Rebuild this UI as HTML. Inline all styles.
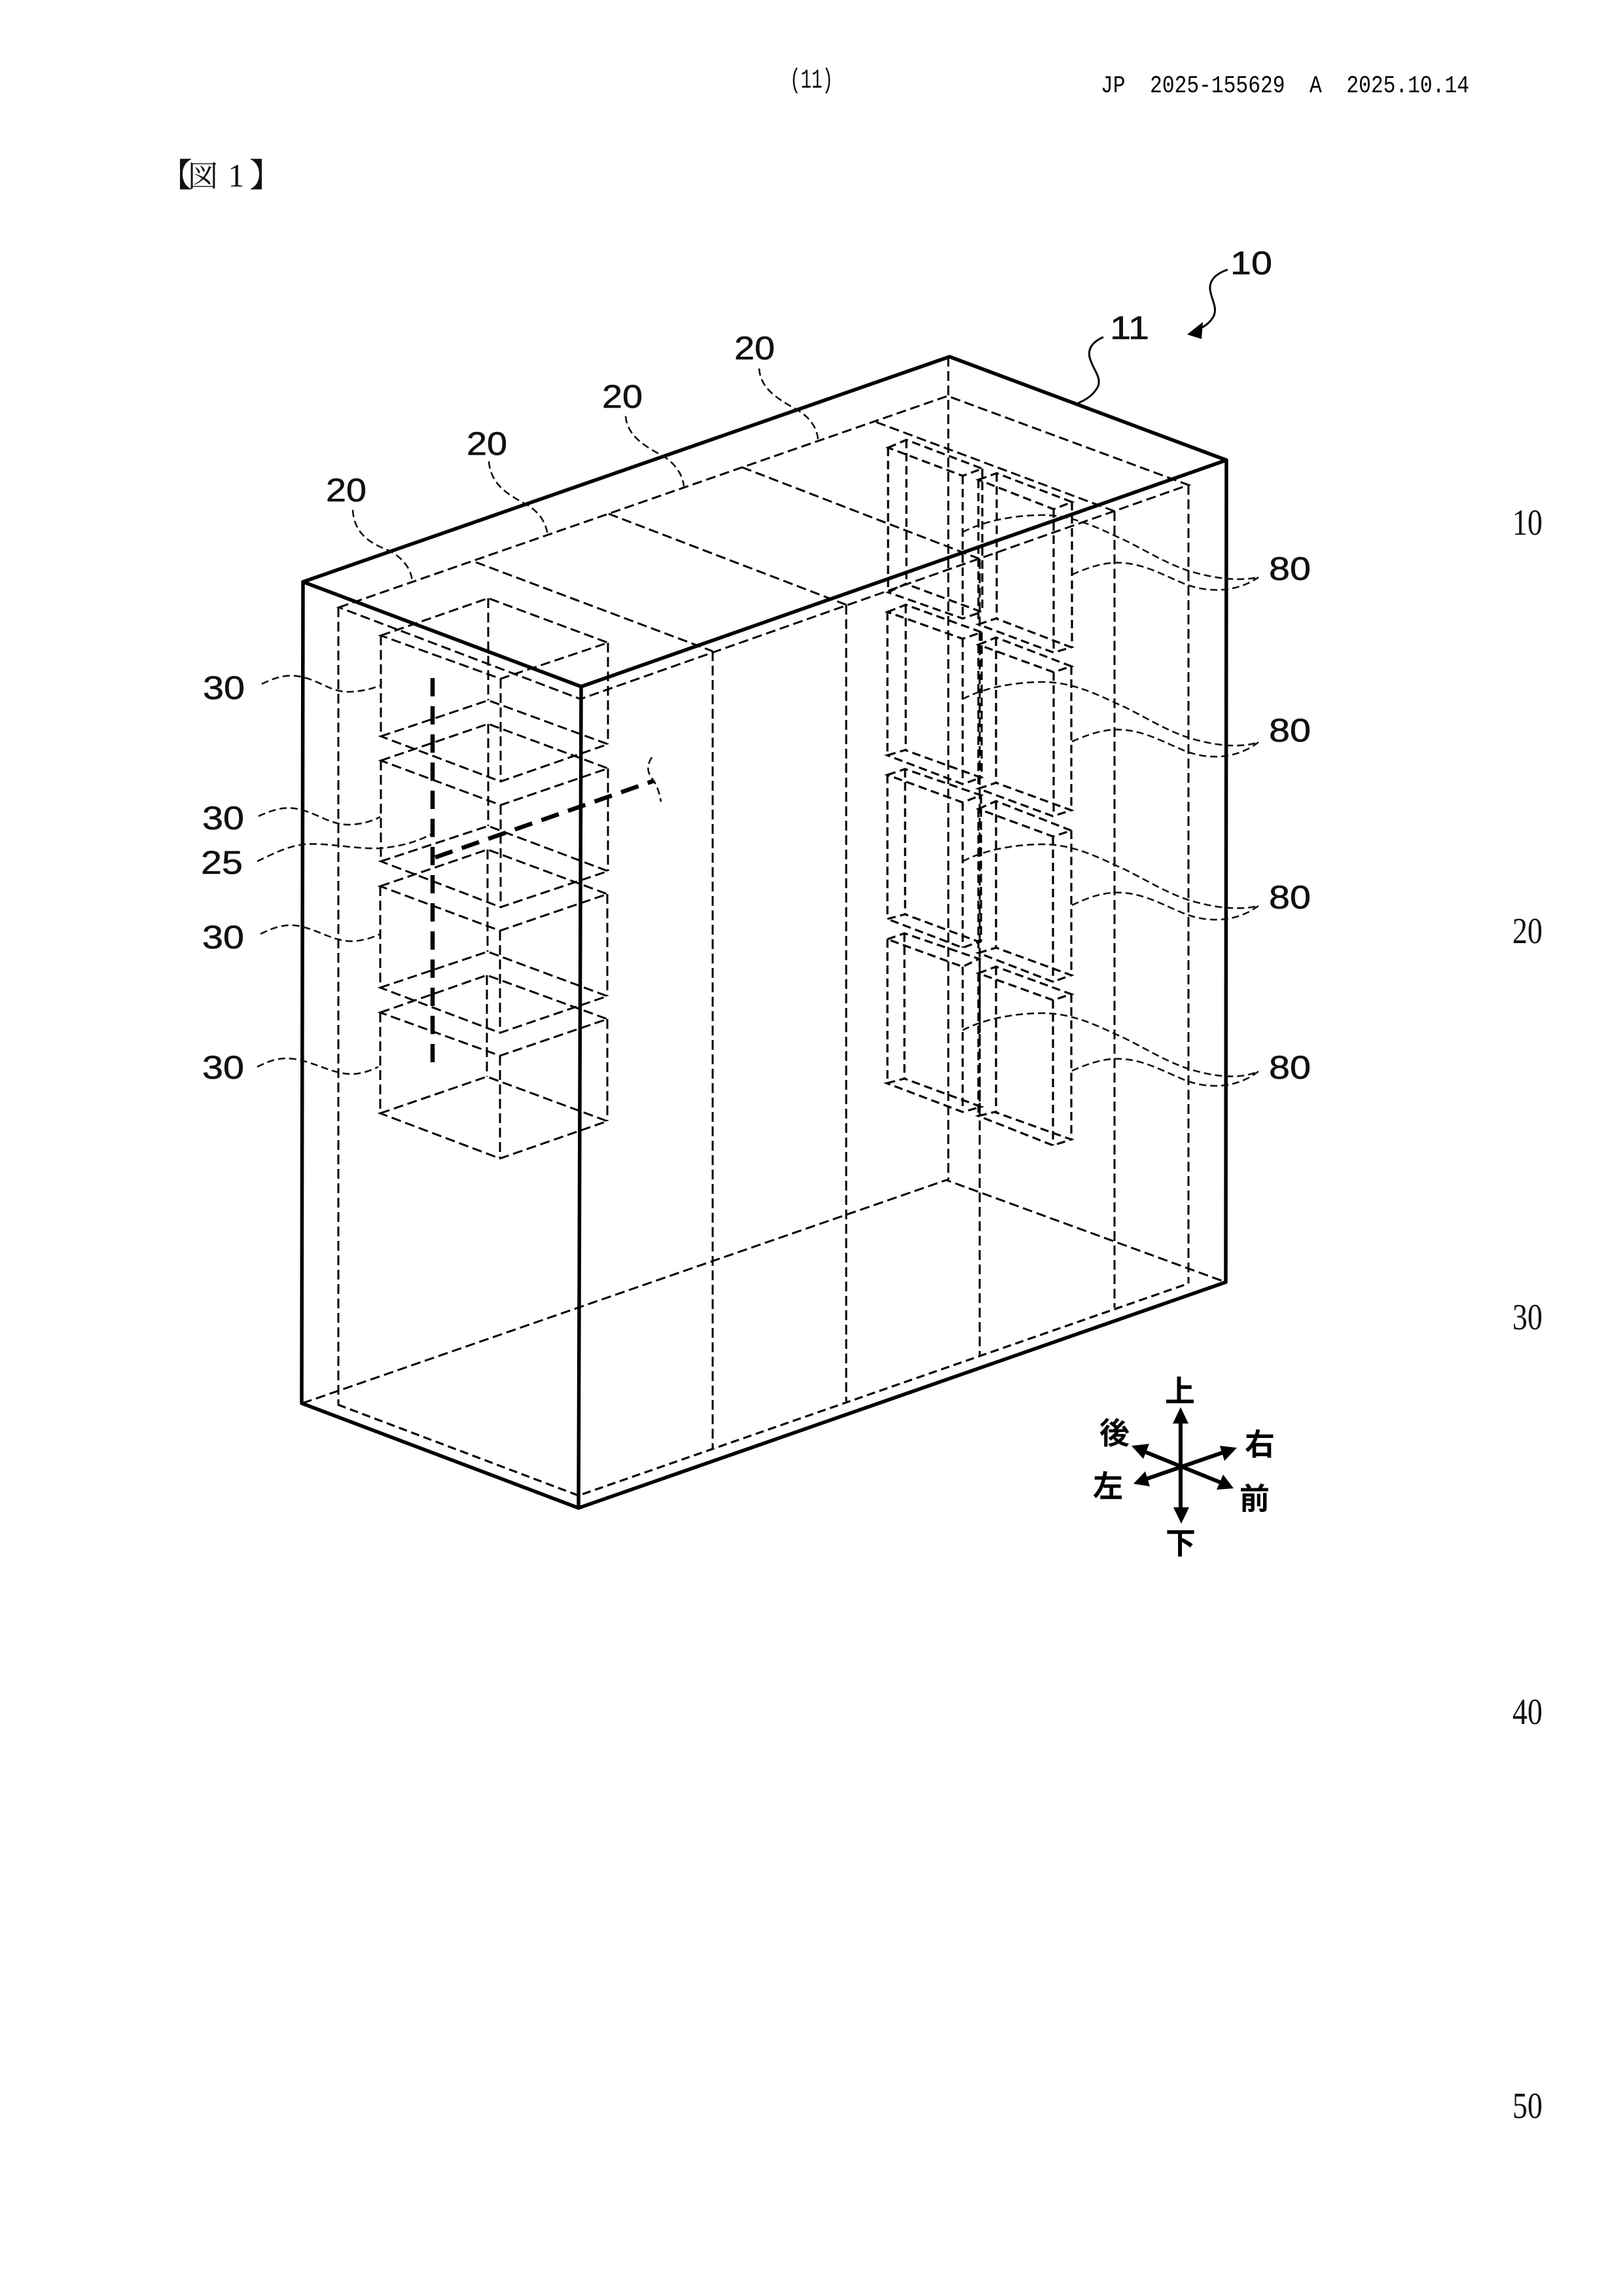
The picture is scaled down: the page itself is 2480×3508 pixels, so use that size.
<!DOCTYPE html>
<html lang="ja">
<head>
<meta charset="utf-8">
<title>JP 2025-155629 A 図1</title>
<style>
html,body{margin:0;padding:0;background:#fff}
svg{display:block}
.n{font-family:"Liberation Sans","Noto Sans CJK JP",sans-serif;font-size:50px;fill:#111;stroke:#111;stroke-width:.6}
.p{font-family:"Liberation Serif",serif;font-size:56px;fill:#111}
.k{font-family:"Noto Sans CJK JP","Liberation Sans",sans-serif;font-size:46px;font-weight:700;fill:#000;text-anchor:middle}
.o{fill:none;stroke:#000;stroke-width:5.5;stroke-linecap:round;stroke-linejoin:round}
.d{fill:none;stroke:#000;stroke-width:3;stroke-dasharray:15 7}
.b{fill:none;stroke:#000;stroke-width:3.2;stroke-dasharray:13 7}
.l{fill:none;stroke:#111;stroke-width:2.6;stroke-dasharray:11 6}
.t{fill:none;stroke:#000;stroke-width:6.5;stroke-dasharray:28 15}
</style>
</head>
<body>
<svg xmlns="http://www.w3.org/2000/svg" width="2480" height="3508" viewBox="0 0 2480 3508">
<rect width="2480" height="3508" fill="#fff"/>

<!-- header -->
<text x="1207" y="134" font-family="Liberation Mono,monospace" font-size="42" textLength="66" lengthAdjust="spacingAndGlyphs" fill="#111">(11)</text>
<text x="1682" y="141" font-family="Liberation Mono,monospace" font-size="37" textLength="563" lengthAdjust="spacingAndGlyphs" fill="#000" xml:space="preserve">JP  2025-155629  A  2025.10.14</text>
<text x="244" y="285" font-family="Noto Serif CJK SC,serif" font-size="50" fill="#111">【</text>
<text x="310" y="285" font-family="Noto Serif CJK JP,Noto Serif CJK SC,serif" font-size="46" text-anchor="middle" fill="#111">図</text>
<text x="361" y="285" font-family="Liberation Serif,serif" font-size="50" text-anchor="middle" fill="#111">1</text>
<text x="381" y="285" font-family="Noto Serif CJK SC,serif" font-size="50" fill="#111">】</text>

<!-- margin line numbers -->
<text class="p" x="2311" y="817" textLength="46" lengthAdjust="spacingAndGlyphs">10</text>
<text class="p" x="2311" y="1441" textLength="46" lengthAdjust="spacingAndGlyphs">20</text>
<text class="p" x="2311" y="2031" textLength="46" lengthAdjust="spacingAndGlyphs">30</text>
<text class="p" x="2311" y="2634" textLength="46" lengthAdjust="spacingAndGlyphs">40</text>
<text class="p" x="2311" y="3236" textLength="46" lengthAdjust="spacingAndGlyphs">50</text>

<!-- housing inner / hidden lines -->
<path class="d" d="M518 928L1448 605L1816 741L887 1068Z"/>
<path class="d" d="M727 859L1089 995M930 785L1293 924M1134 714L1497 854M1339 645L1703 781"/>
<path class="d" d="M1449 545V1803"/>
<path class="d" d="M517 928V2146M1816 741V1961M1089 995V2214M1293 924V2141M1497 854V2071M1703 781V1998"/>
<path class="d" d="M462 2144L1446 1803L1873 1959"/>
<path class="b" d="M516 2146L884 2285L1816 1961"/>

<!-- outer housing -->
<path class="o" d="M463 889L1451 545L1874 703L888 1049Z"/>
<path class="o" d="M463 889L461 2144L884 2304L1873 1959L1874 703"/>
<path class="o" d="M888 1049L884 2304"/>

<!-- boxes 30 -->
<path class="d" d="M582 971L746 914L929 982L765 1037Z M582 1125L746 1070L929 1137L765 1194Z M582 971V1125 M746 914V1070 M929 982V1137 M765 1037V1194"/>
<path class="d" d="M582 1162L746 1106L929 1174L765 1230Z M582 1316L746 1262L929 1331L765 1386Z M582 1162V1316 M746 1106V1262 M929 1174V1331 M765 1230V1386"/>
<path class="d" d="M581 1354L745 1298L928 1366L764 1422Z M581 1509L745 1454L928 1522L764 1578Z M581 1354V1509 M745 1298V1454 M928 1366V1522 M764 1422V1578"/>
<path class="d" d="M581 1547L744 1490L928 1557L764 1613Z M581 1701L744 1645L928 1713L764 1770Z M581 1547V1701 M744 1490V1645 M928 1557V1713 M764 1613V1770"/>

<!-- section lines 25 -->
<path class="t" d="M661 1036V1624"/>
<path class="t" d="M665 1310L999 1193"/>
<path class="l" d="M996 1157C988 1170 988 1180 999 1193C1005 1203 1008 1213 1010 1225"/>

<!-- boxes 80 : left column -->
<path class="b" d="M1357 684L1385 672L1501 716L1471 727Z M1357 905L1384 892L1500 935L1471 945Z M1357 684V905 M1385 672V892 M1501 716V935 M1471 727V945"/>
<path class="b" d="M1356 935L1384 924L1500 966L1471 976Z M1356 1154L1383 1146L1499 1188L1471 1198Z M1356 935V1154 M1384 924V1146 M1500 966V1188 M1471 976V1198"/>
<path class="b" d="M1356 1184L1383 1175L1499 1215L1471 1226Z M1356 1404L1383 1397L1496 1439L1471 1448Z M1356 1184V1404 M1383 1175V1397 M1499 1215V1439 M1471 1226V1448"/>
<path class="b" d="M1356 1435L1382 1426L1496 1465L1471 1477Z M1355 1655L1382 1648L1499 1691L1471 1699Z M1356 1435V1655 M1382 1426V1648 M1497 1465V1691 M1471 1477V1699"/>
<!-- boxes 80 : right column -->
<path class="b" d="M1495 733L1523 723L1638 767L1610 778Z M1495 954L1522 945L1637 989L1610 997Z M1495 733V954 M1523 723V945 M1638 767V989 M1610 778V997"/>
<path class="b" d="M1495 985L1522 974L1637 1018L1610 1027Z M1495 1205L1522 1196L1637 1238L1609 1247Z M1495 985V1205 M1522 974V1196 M1637 1018V1238 M1610 1027V1247"/>
<path class="b" d="M1495 1236L1522 1224L1637 1269L1609 1278Z M1495 1456L1522 1448L1637 1490L1609 1500Z M1495 1236V1456 M1522 1224V1448 M1637 1269V1490 M1609 1278V1500"/>
<path class="b" d="M1495 1487L1522 1477L1637 1519L1609 1528Z M1495 1705L1520 1699L1637 1741L1609 1750Z M1495 1487V1705 M1522 1477V1699 M1637 1519V1741 M1609 1528V1750"/>

<!-- leaders 20 -->
<path class="l" d="M539 779C541 815 565 830 594 841C615 852 628 868 630 888"/>
<path class="l" d="M747 705C750 740 775 755 803 770C825 782 835 800 837 819"/>
<path class="l" d="M956 636C958 665 985 682 1012 696C1032 708 1043 725 1045 743"/>
<path class="l" d="M1160 563C1162 595 1190 610 1216 625C1236 636 1248 652 1250 671"/>

<!-- leader 11 / 10 -->
<path fill="none" stroke="#000" stroke-width="3" d="M1686 515C1670 522 1662 532 1665 546C1670 565 1683 575 1678 590C1672 602 1662 610 1647 616"/>
<path fill="none" stroke="#000" stroke-width="3" d="M1876 412C1858 418 1848 428 1849 442C1851 458 1860 468 1855 482C1850 492 1842 498 1832 503"/>
<polygon points="1814,511 1838,492 1836,518" fill="#000"/>

<!-- leaders 30 / 25 -->
<path class="l" d="M400 1045C425 1033 440 1030 460 1034C490 1040 505 1058 535 1057C555 1056 570 1052 581 1047"/>
<path class="l" d="M395 1247C420 1236 435 1232 455 1236C485 1242 505 1261 535 1260C555 1259 570 1254 581 1248"/>
<path class="l" d="M393 1316C420 1303 440 1293 465 1290C500 1287 545 1298 581 1296C615 1293 640 1285 660 1274"/>
<path class="l" d="M398 1427C420 1416 438 1411 458 1415C490 1422 510 1439 540 1438C557 1437 570 1432 581 1427"/>
<path class="l" d="M393 1630C415 1619 430 1615 450 1618C485 1624 510 1642 540 1641C555 1640 568 1635 578 1630"/>

<!-- leaders 80 -->
<path class="l" d="M1471 813C1500 798 1540 788 1590 787C1640 786 1680 808 1720 826C1760 846 1790 866 1830 876C1860 884 1895 888 1923 882"/>
<path class="l" d="M1638 878C1665 866 1690 858 1715 860C1750 862 1780 880 1810 892C1840 904 1885 908 1923 882"/>
<path class="l" d="M1471 1068C1500 1053 1540 1043 1590 1042C1640 1041 1680 1063 1720 1081C1760 1101 1790 1121 1830 1131C1860 1139 1895 1143 1923 1134"/>
<path class="l" d="M1638 1133C1665 1121 1690 1113 1715 1115C1750 1117 1780 1135 1810 1147C1840 1159 1885 1163 1923 1134"/>
<path class="l" d="M1471 1316C1500 1301 1540 1291 1590 1290C1640 1289 1680 1311 1720 1329C1760 1349 1790 1369 1830 1379C1860 1387 1895 1391 1923 1384"/>
<path class="l" d="M1638 1383C1665 1370 1690 1362 1715 1364C1750 1366 1780 1384 1810 1396C1840 1408 1885 1412 1923 1384"/>
<path class="l" d="M1471 1574C1500 1559 1540 1549 1590 1548C1640 1547 1680 1569 1720 1587C1760 1607 1790 1627 1830 1637C1860 1645 1895 1649 1923 1637"/>
<path class="l" d="M1638 1636C1665 1624 1690 1616 1715 1618C1750 1620 1780 1638 1810 1650C1840 1662 1885 1666 1923 1637"/>

<!-- reference numerals -->
<g class="n">
<text x="1880" y="419" textLength="64" lengthAdjust="spacingAndGlyphs">10</text>
<text x="1696" y="518" textLength="60" lengthAdjust="spacingAndGlyphs">11</text>
<text x="498" y="766" textLength="62" lengthAdjust="spacingAndGlyphs">20</text>
<text x="713" y="695" textLength="62" lengthAdjust="spacingAndGlyphs">20</text>
<text x="920" y="623" textLength="62" lengthAdjust="spacingAndGlyphs">20</text>
<text x="1122" y="549" textLength="62" lengthAdjust="spacingAndGlyphs">20</text>
<text x="310" y="1068" textLength="64" lengthAdjust="spacingAndGlyphs">30</text>
<text x="309" y="1267" textLength="64" lengthAdjust="spacingAndGlyphs">30</text>
<text x="307" y="1335" textLength="64" lengthAdjust="spacingAndGlyphs">25</text>
<text x="309" y="1449" textLength="64" lengthAdjust="spacingAndGlyphs">30</text>
<text x="309" y="1648" textLength="64" lengthAdjust="spacingAndGlyphs">30</text>
<text x="1939" y="886" textLength="64" lengthAdjust="spacingAndGlyphs">80</text>
<text x="1939" y="1133" textLength="64" lengthAdjust="spacingAndGlyphs">80</text>
<text x="1939" y="1388" textLength="64" lengthAdjust="spacingAndGlyphs">80</text>
<text x="1939" y="1648" textLength="64" lengthAdjust="spacingAndGlyphs">80</text>
</g>

<!-- compass -->
<g stroke="#000" stroke-width="6" fill="none">
<path d="M1804 2170V2310"/>
<path d="M1875 2217L1745 2262"/>
<path d="M1744 2216L1870 2267"/>
</g>
<polygon points="1804,2150 1792,2175 1816,2175" fill="#000"/>
<polygon points="1805,2328 1793,2303 1817,2303" fill="#000"/>
<polygon points="1890,2212 1864,2209 1871,2232" fill="#000"/>
<polygon points="1732,2267 1750,2248 1757,2271" fill="#000"/>
<polygon points="1729,2209 1756,2206 1747,2229" fill="#000"/>
<polygon points="1885,2274 1859,2276 1869,2253" fill="#000"/>
<text class="k" x="1803" y="2142">上</text>
<text class="k" x="1703" y="2206">後</text>
<text class="k" x="1925" y="2223">右</text>
<text class="k" x="1693" y="2287">左</text>
<text class="k" x="1917" y="2306">前</text>
<text class="k" x="1804" y="2374">下</text>
</svg>
</body>
</html>
